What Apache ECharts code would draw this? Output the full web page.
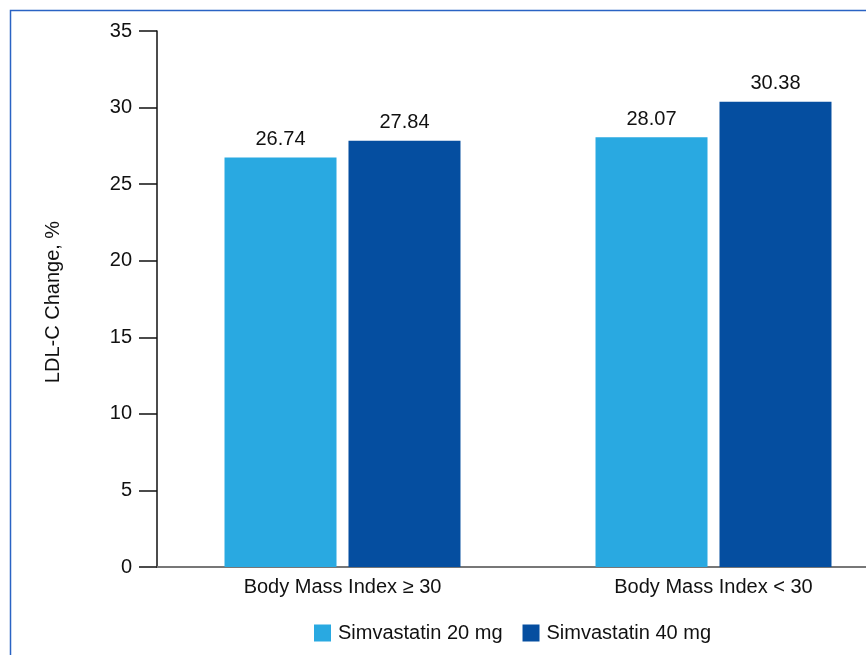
<!DOCTYPE html>
<html>
<head>
<meta charset="utf-8">
<script src="https://cdn.jsdelivr.net/npm/echarts@6/dist/echarts.min.js"></script>
<style>
  html, body { margin: 0; padding: 0; background: #fff; }
  #chart { width: 866px; height: 655px; }
</style>
</head>
<body>
<div id="chart"></div>
<script>
// data
const categories = ['Body Mass Index \u2265 30', 'Body Mass Index < 30']
const seriesNames = ['Simvastatin 20 mg', 'Simvastatin 40 mg']
const sim20 = [26.74, 28.07]
const sim40 = [27.84, 30.38]

const font = '"Liberation Sans Narrow", "Liberation Sans", Arial, sans-serif'

const chart = echarts.init(document.getElementById('chart'))

const valueLabel = {
  show: true,
  position: 'top',
  distance: 8,
  color: '#111',
  fontSize: 20,
  fontFamily: font,
  formatter: p => p.value.toFixed(2)
}

chart.setOption({
  backgroundColor: '#fff',
  animation: false,
  textStyle: { fontFamily: font },
  graphic: [
    { // outer frame, only left and top edges fall inside the picture
      type: 'rect',
      shape: { x: 10.5, y: 10.5, width: 900, height: 700 },
      style: { fill: 'none', stroke: '#2a63c4', lineWidth: 1.5 },
      silent: true
    },
    {
      type: 'text',
      x: 53,
      y: 302,
      rotation: Math.PI / 2,
      style: {
        text: 'LDL-C Change, %',
        fontSize: 20,
        fontFamily: font,
        fill: '#111',
        align: 'center',
        verticalAlign: 'middle'
      }
    }
  ],
  grid: {
    left: 157,
    top: 31,
    width: 742,
    height: 536,
    outerBoundsMode: 'none'
  },
  legend: {
    top: 618,
    left: 309,
    itemWidth: 17,
    itemHeight: 17,
    itemGap: 20,
    icon: 'rect',
    textStyle: { fontSize: 20, color: '#111', fontFamily: font, padding: [0, 0, 0, 2] },
    data: seriesNames
  },
  xAxis: {
    type: 'category',
    data: categories,
    axisLine: { lineStyle: { color: '#777', width: 2 } },
    axisTick: { show: false },
    axisLabel: { fontSize: 20, color: '#111', margin: 10, fontFamily: font },
    splitLine: { show: false }
  },
  yAxis: {
    type: 'value',
    min: 0,
    max: 35,
    interval: 5,
    axisLine: { show: true, lineStyle: { color: '#111', width: 1.5 } },
    axisTick: { show: true, inside: false, length: 18, lineStyle: { color: '#111', width: 1.5 } },
    axisLabel: { fontSize: 20, color: '#111', margin: 25, fontFamily: font },
    splitLine: { show: false }
  },
  series: [
    {
      name: seriesNames[0],
      type: 'bar',
      barWidth: 112,
      barGap: '10.7%',
      itemStyle: { color: '#29a9e1' },
      label: valueLabel,
      data: sim20
    },
    {
      name: seriesNames[1],
      type: 'bar',
      barWidth: 112,
      barGap: '10.7%',
      itemStyle: { color: '#054ea0' },
      label: valueLabel,
      data: sim40
    }
  ]
})
</script>
</body>
</html>
